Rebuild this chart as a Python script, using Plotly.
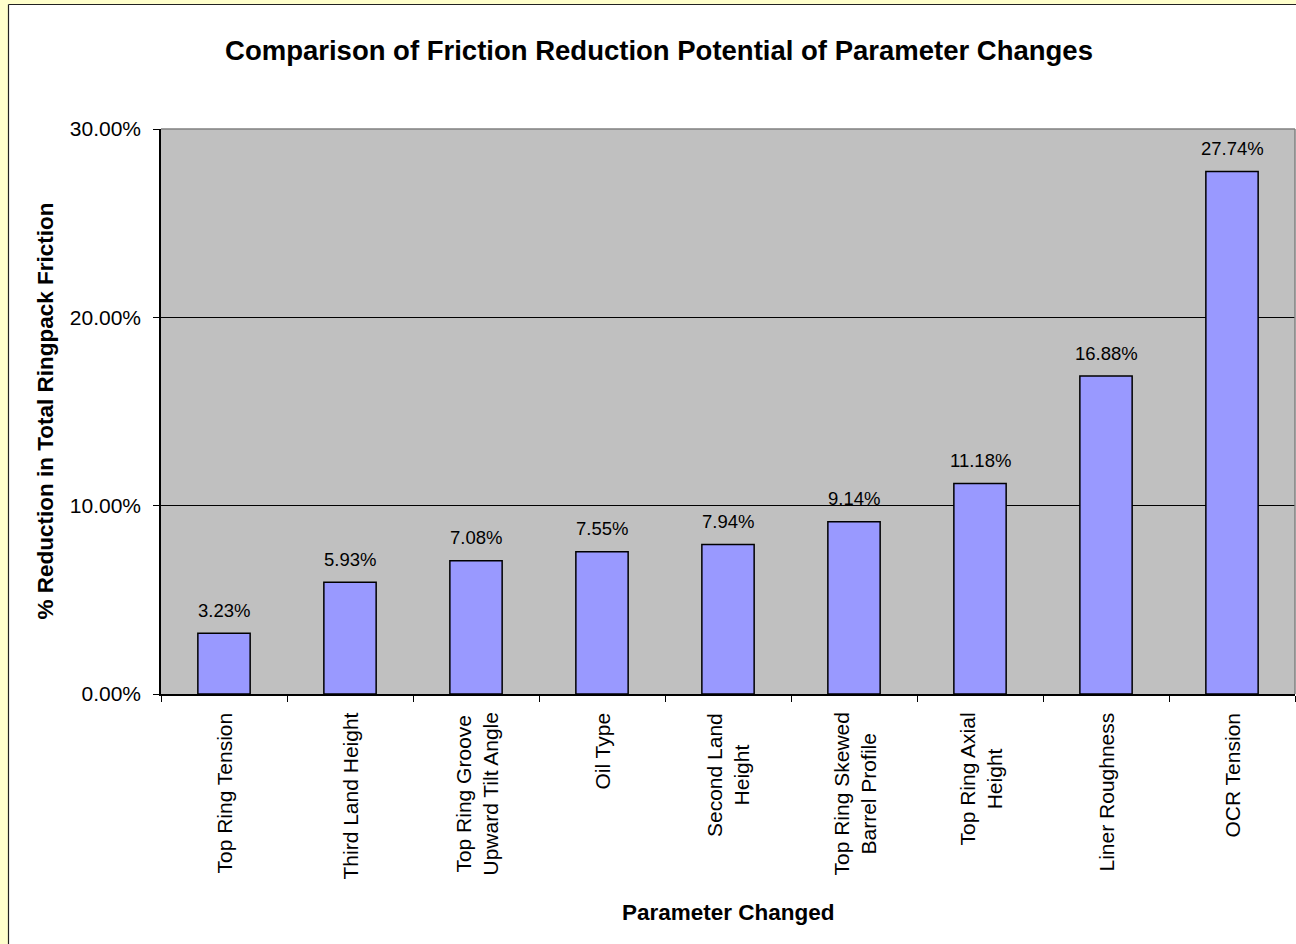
import plotly.graph_objects as go

# Parameter changes and the friction reduction each one gives (percent)
categories = [
    "Top Ring Tension",
    "Third Land Height",
    "Top Ring Groove<br>Upward Tilt Angle",
    "Oil Type",
    "Second Land<br>Height",
    "Top Ring Skewed<br>Barrel Profile",
    "Top Ring Axial<br>Height",
    "Liner Roughness",
    "OCR Tension",
]
reduction_pct = [3.23, 5.93, 7.08, 7.55, 7.94, 9.14, 11.18, 16.88, 27.74]
y_ticks = [0, 10, 20, 30]
y_tick_labels = [f"{t:.2f}%" for t in y_ticks]

W, H = 1296, 944
ML, MR, MT, MB = 161, 1, 129, 250
PW, PH = W - ML - MR, H - MT - MB
FONT = "Liberation Sans, Arial, sans-serif"


def px_x(px):
    return (px - ML) / PW


def px_y(py):
    return (H - MB - py) / PH


fig = go.Figure()
fig.add_trace(go.Bar(
    x=categories,
    y=reduction_pct,
    marker=dict(color="#9999FF", line=dict(color="black", width=1.5)),
    width=0.415,
    hoverinfo="x+y",
))

annotations = []
# value labels above each bar
for c, v in zip(categories, reduction_pct):
    annotations.append(dict(
        x=c, y=v, xref="x", yref="y", text=f"{v:.2f}%", showarrow=False,
        yanchor="middle", yshift=23, font=dict(family=FONT, size=18.5, color="black"),
    ))
# rotated category labels under the axis
for c in categories:
    annotations.append(dict(
        x=c, y=0, xref="x", yref="paper", text=c, showarrow=False,
        textangle=-90, align="center", xanchor="center", yanchor="top", yshift=-17,
        font=dict(family=FONT, size=21, color="black"),
    ))
# axis titles
annotations.append(dict(
    x=px_x(45), y=0.5, xref="paper", yref="paper", showarrow=False,
    text="<b>% Reduction in Total Ringpack Friction</b>", textangle=-90,
    xanchor="center", yanchor="middle", font=dict(family=FONT, size=22.5, color="black"),
))
annotations.append(dict(
    x=0.5, y=px_y(912), xref="paper", yref="paper", showarrow=False,
    text="<b>Parameter Changed</b>",
    xanchor="center", yanchor="middle", font=dict(family=FONT, size=22.5, color="black"),
))

shapes = [
    # yellow page strips and the chart-area border
    dict(type="rect", xref="paper", yref="paper", x0=px_x(0), x1=px_x(8), y0=px_y(H + 5), y1=px_y(0),
         fillcolor="#FFFFCC", line=dict(width=0), layer="below"),
    dict(type="rect", xref="paper", yref="paper", x0=px_x(0), x1=px_x(W + 5), y0=px_y(4), y1=px_y(0),
         fillcolor="#FFFFCC", line=dict(width=0), layer="below"),
    dict(type="line", xref="paper", yref="paper", x0=px_x(8.5), x1=px_x(8.5), y0=px_y(H + 5), y1=px_y(4.5),
         line=dict(color="#222222", width=1.2)),
    dict(type="line", xref="paper", yref="paper", x0=px_x(8.5), x1=px_x(W + 5), y0=px_y(4.5), y1=px_y(4.5),
         line=dict(color="#222222", width=1.2)),
    # grey top and right edges of the plot area
    dict(type="line", xref="paper", yref="paper", x0=0, x1=1, y0=1, y1=1,
         line=dict(color="#808080", width=1.5)),
    dict(type="line", xref="paper", yref="paper", x0=1, x1=1, y0=0, y1=1,
         line=dict(color="#808080", width=1.5)),
]

fig.update_layout(
    width=W, height=H,
    margin=dict(l=ML, r=MR, t=MT, b=MB, pad=0),
    paper_bgcolor="white",
    plot_bgcolor="#C0C0C0",
    showlegend=False,
    bargap=0.585,
    title=dict(
        text="<b>Comparison of Friction Reduction Potential of Parameter Changes</b>",
        x=659 / W, y=1 - 50 / H, xref="container", yref="container",
        xanchor="center", yanchor="middle",
        font=dict(family=FONT, size=27.5, color="black"),
    ),
    xaxis=dict(
        type="category",
        showticklabels=False,
        ticks="outside", tickson="boundaries", ticklen=6, tickcolor="black", tickwidth=1,
        showline=True, linecolor="black", linewidth=1.5,
        showgrid=False, zeroline=False,
    ),
    yaxis=dict(
        range=[0, 30],
        tickmode="array",
        tickvals=y_ticks,
        ticktext=y_tick_labels,
        ticks="outside", ticklen=6, tickcolor="black", tickwidth=1,
        ticklabelstandoff=8,
        tickfont=dict(family=FONT, size=21, color="black"),
        showline=True, linecolor="black", linewidth=1.5,
        showgrid=True, gridcolor="black", gridwidth=1,
        zeroline=False,
    ),
    annotations=annotations,
    shapes=shapes,
)

fig.write_html("out.html")
